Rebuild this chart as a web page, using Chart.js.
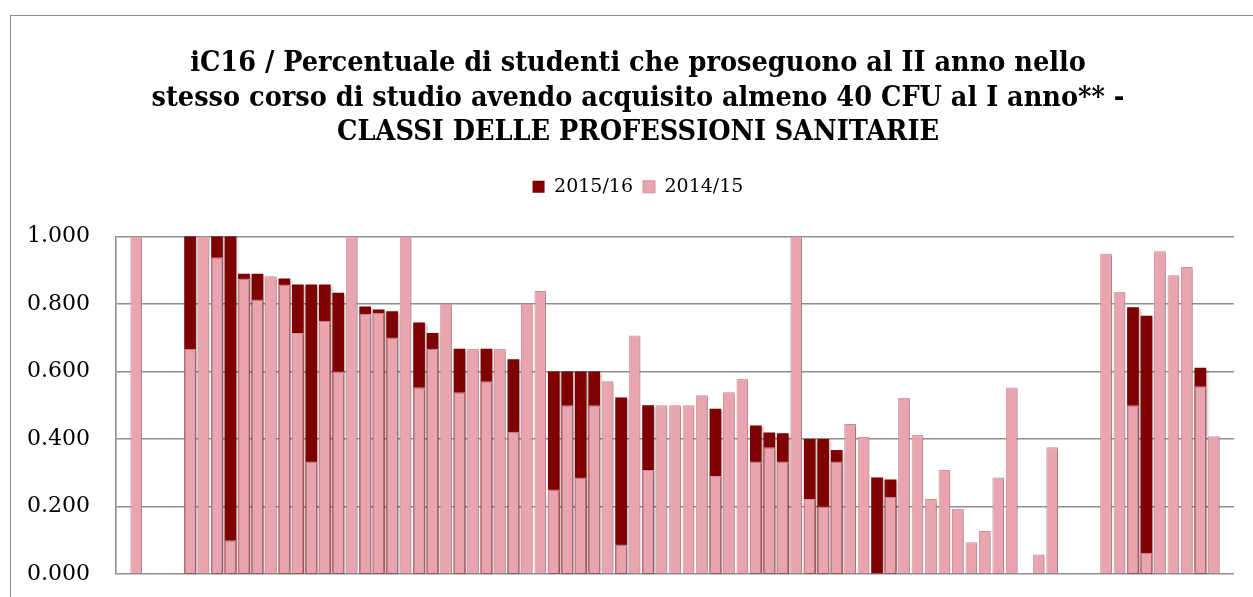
<!DOCTYPE html>
<html lang="it">
<head>
<meta charset="utf-8">
<title>iC16 - Classi delle professioni sanitarie</title>
<script src="https://cdn.jsdelivr.net/npm/chart.js"></script>
<style>
    html, body { margin: 0; padding: 0; background: #fff; overflow: hidden; }
    #wrap { position: relative; width: 1253px; height: 597px; overflow: hidden; }
    #frame {
        position: absolute; left: 10px; top: 15px;
        width: 1300px; height: 700px;
        border: 1.5px solid #8e8e8e; box-sizing: border-box;
    }
    #ic16Chart { position: absolute; left: 0; top: 0; }
</style>
</head>
<body>
<div id="wrap">
    <div id="frame"></div>
    <canvas id="ic16Chart" width="1276" height="597"></canvas>
</div>
<script>
// ============================================================
// Dati: un valore per corso di studio (null = corso senza dato)
// ============================================================
const anni = ['2015/16', '2014/15'];

const val2015 = [
    null, null, null, null, null, 1.000, null, 1.000, 1.000, 0.889,
    0.889, null, 0.875, 0.857, 0.857, 0.857, 0.833, null, 0.792, 0.783,
    0.778, null, 0.745, 0.714, null, 0.667, null, 0.667, null, 0.636,
    null, null, 0.600, 0.600, 0.600, 0.600, null, 0.523, null, 0.500,
    null, null, null, null, 0.489, null, null, 0.440, 0.419, 0.417,
    null, 0.400, 0.400, 0.367, null, null, 0.286, 0.280, null, null,
    null, null, null, null, null, null, null, null, null, null,
    null, null, null, null, null, 0.790, 0.765, null, null, null,
    0.611, null, null
];

const val2014 = [
    null, 1.000, null, null, null, 0.667, 1.000, 0.938, 0.100, 0.875,
    0.813, 0.882, 0.857, 0.714, 0.333, 0.750, 0.600, 1.000, 0.771, 0.774,
    0.700, 1.000, 0.553, 0.667, 0.800, 0.538, 0.667, 0.571, 0.667, 0.421,
    0.800, 0.838, 0.250, 0.500, 0.286, 0.500, 0.571, 0.087, 0.706, 0.308,
    0.500, 0.500, 0.500, 0.529, 0.290, 0.538, 0.578, 0.333, 0.375, 0.333,
    1.000, 0.222, 0.200, 0.333, 0.444, 0.406, 0.000, 0.229, 0.522, 0.412,
    0.222, 0.308, 0.193, 0.094, 0.127, 0.286, 0.552, null, 0.058, 0.375,
    null, null, null, 0.948, 0.836, 0.500, 0.063, 0.956, 0.885, 0.909,
    0.556, 0.408, null
];

// i corsi non hanno etichetta sull'asse
const corsi = val2014.map((_, i) => 'Corso ' + (i + 1));

const yTicks = [0, 0.2, 0.4, 0.6, 0.8, 1.0];

// ============================================================
// Plugin: ombra leggera sotto le barre e spazio sotto la legenda
// ============================================================
const barShadow = {
    id: 'barShadow',
    beforeDatasetsDraw(chart) {
        const ctx = chart.ctx;
        ctx.save();
        ctx.shadowColor = 'rgba(0, 0, 0, 0.28)';
        ctx.shadowBlur = 3;
        ctx.shadowOffsetX = 2;
        ctx.shadowOffsetY = 1;
    },
    afterDatasetsDraw(chart) {
        chart.ctx.restore();
    }
};

const legendGap = {
    id: 'legendGap',
    beforeInit(chart) {
        const fit = chart.legend.fit;
        chart.legend.fit = function () {
            fit.bind(chart.legend)();
            this.height += 30;
        };
    }
};

const serifTitle = "'DejaVu Serif Condensed', 'DejaVu Serif', serif";

new Chart(document.getElementById('ic16Chart'), {
    type: 'bar',
    data: {
        labels: corsi,
        datasets: [
            {
                label: anni[0],
                data: val2015,
                backgroundColor: '#7f0000',
                borderWidth: 0,
                order: 1
            },
            {
                label: anni[1],
                data: val2014,
                backgroundColor: '#e8a5b0',
                borderColor: '#d8909d',
                borderWidth: 1,
                order: 0
            }
        ]
    },
    options: {
        responsive: false,
        animation: false,
        devicePixelRatio: 1,
        layout: { padding: { left: 0, right: 0, top: 0, bottom: 23 } },
        datasets: {
            bar: { grouped: false, categoryPercentage: 1, barPercentage: 0.87 }
        },
        plugins: {
            title: {
                display: true,
                text: [
                    'iC16 / Percentuale di studenti che proseguono al II anno nello',
                    'stesso corso di studio avendo acquisito almeno 40 CFU al I anno** -',
                    'CLASSI DELLE PROFESSIONI SANITARIE'
                ],
                color: '#000',
                font: { family: serifTitle, size: 28.5, weight: 'bold', lineHeight: 1.22 },
                padding: { top: 46, bottom: 17 }
            },
            legend: {
                display: true,
                labels: {
                    color: '#000',
                    font: { family: 'DejaVu Serif', size: 19 },
                    boxWidth: 12,
                    boxHeight: 12,
                    padding: 10,
                    sort: (a, b) => a.datasetIndex - b.datasetIndex
                }
            },
            tooltip: { enabled: false }
        },
        scales: {
            x: {
                afterFit: scale => { scale.height = 0; },
                grid: { display: false },
                border: { display: false },
                ticks: { display: false }
            },
            y: {
                min: 0,
                max: 1,
                afterFit: scale => {
                    scale.width = 116;
                    scale.paddingTop = 0;
                    scale.paddingBottom = 0;
                },
                afterBuildTicks: scale => { scale.ticks = yTicks.map(v => ({ value: v })); },
                grid: { color: '#8e8e8e', lineWidth: 1.6, drawTicks: false },
                border: { display: true, color: '#8e8e8e', width: 1.6 },
                ticks: {
                    color: '#000',
                    padding: 26,
                    font: { family: 'DejaVu Serif', size: 22 },
                    callback: v => v.toFixed(3)
                }
            },
            // asse vuoto a destra: lascia il margine fra area del grafico e bordo
            yRight: {
                position: 'right',
                afterFit: scale => { scale.width = 42; },
                grid: { display: false },
                border: { display: false },
                ticks: { display: false }
            }
        }
    },
    plugins: [barShadow, legendGap]
});
</script>
</body>
</html>
